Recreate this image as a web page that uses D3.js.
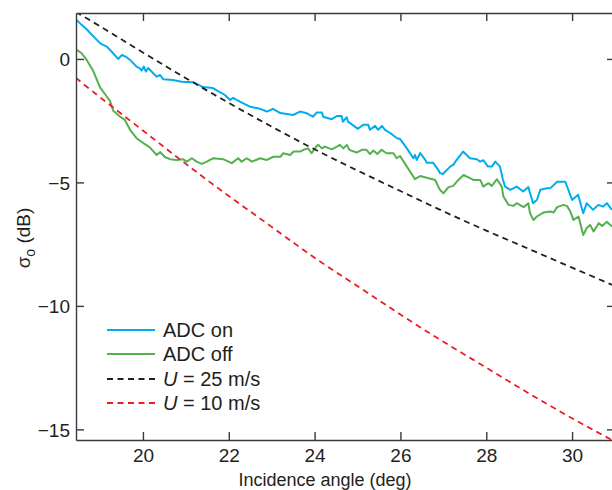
<!DOCTYPE html>
<html>
<head>
<meta charset="utf-8">
<script src="https://cdn.jsdelivr.net/npm/d3@7"></script>
<style>
    body { margin: 0; background: #fff; }
    svg text { font-family: 'Liberation Sans', Arial, Helvetica, sans-serif; fill: #231f20; }
</style>
</head>
<body>
<div id="chart"></div>
<script>
// angulos de incidencia (deg) y sigma0 (dB)
const anguloOn = [18.44, 18.57, 18.69, 18.77, 19.00, 19.07, 19.16, 19.30, 19.42, 19.51, 19.62, 19.70, 19.85, 19.93, 19.97, 20.02, 20.07, 20.12, 20.32, 20.40, 20.47, 20.70, 20.90, 21.17, 21.40, 21.63, 21.75, 21.91, 22.03, 22.10, 22.26, 22.50, 22.73, 22.89, 23.03, 23.20, 23.50, 23.66, 23.82, 23.96, 24.05, 24.17, 24.20, 24.40, 24.52, 24.63, 24.66, 24.75, 24.78, 25.01, 25.13, 25.25, 25.29, 25.41, 25.48, 25.57, 25.64, 25.76, 25.92, 25.99, 26.15, 26.30, 26.34, 26.38, 26.46, 26.58, 26.61, 26.76, 26.88, 26.92, 26.99, 27.16, 27.23, 27.31, 27.46, 27.62, 27.78, 27.86, 27.93, 28.04, 28.13, 28.21, 28.32, 28.39, 28.44, 28.56, 28.71, 28.86, 28.98, 29.09, 29.18, 29.26, 29.41, 29.49, 29.65, 29.84, 30.00, 30.14, 30.26, 30.34, 30.49, 30.61, 30.72, 30.81, 30.93]
const sigmaOn = [1.60, 1.38, 1.20, 1.05, 0.64, 0.57, 0.50, 0.24, 0.00, 0.16, 0.07, -0.04, -0.31, -0.38, -0.47, -0.31, -0.51, -0.37, -0.72, -0.65, -0.82, -0.85, -0.92, -0.94, -1.14, -1.18, -1.30, -1.46, -1.66, -1.58, -1.73, -1.94, -2.02, -2.13, -2.02, -2.19, -2.27, -2.13, -2.20, -2.34, -2.17, -2.17, -2.34, -2.44, -2.31, -2.31, -2.54, -2.36, -2.54, -2.83, -2.67, -2.67, -2.87, -2.71, -2.87, -2.71, -2.87, -3.00, -3.21, -3.24, -3.62, -4.02, -3.89, -4.09, -3.81, -4.09, -4.20, -4.20, -4.49, -4.62, -4.66, -4.36, -4.29, -4.09, -3.75, -4.02, -4.06, -4.16, -4.10, -4.36, -4.36, -4.16, -4.36, -4.90, -5.17, -5.30, -5.17, -5.37, -5.19, -5.84, -5.71, -5.30, -5.24, -5.24, -4.97, -4.97, -5.71, -5.50, -6.25, -5.84, -6.11, -5.91, -5.98, -5.84, -6.11]

const anguloOff = [18.44, 18.57, 18.69, 18.84, 19.00, 19.16, 19.23, 19.31, 19.47, 19.58, 19.70, 19.85, 20.01, 20.16, 20.32, 20.40, 20.51, 20.63, 20.79, 20.94, 21.02, 21.14, 21.25, 21.37, 21.49, 21.64, 21.87, 22.07, 22.22, 22.30, 22.42, 22.54, 22.73, 22.89, 23.04, 23.20, 23.27, 23.43, 23.51, 23.66, 23.74, 23.85, 23.93, 24.05, 24.09, 24.17, 24.24, 24.40, 24.52, 24.59, 24.67, 24.75, 24.81, 24.98, 25.10, 25.21, 25.29, 25.37, 25.46, 25.56, 25.68, 25.84, 25.91, 25.99, 26.15, 26.34, 26.46, 26.81, 26.92, 27.00, 27.12, 27.23, 27.35, 27.47, 27.62, 27.70, 27.86, 27.93, 28.05, 28.13, 28.25, 28.36, 28.40, 28.52, 28.63, 28.71, 28.87, 28.98, 29.02, 29.10, 29.18, 29.33, 29.49, 29.57, 29.65, 29.80, 29.88, 29.96, 30.03, 30.15, 30.26, 30.34, 30.42, 30.50, 30.62, 30.70, 30.81, 30.93]
const sigmaOff = [0.39, 0.23, -0.04, -0.48, -1.15, -1.53, -1.70, -2.10, -2.34, -2.47, -2.87, -3.21, -3.41, -3.58, -3.89, -3.77, -3.97, -4.06, -4.09, -4.06, -4.16, -4.02, -4.16, -4.25, -4.16, -4.02, -4.06, -4.22, -4.02, -4.16, -4.02, -4.16, -4.02, -4.09, -3.96, -3.96, -3.82, -3.89, -3.75, -3.75, -3.68, -3.62, -3.82, -3.52, -3.48, -3.62, -3.55, -3.66, -3.55, -3.48, -3.62, -3.48, -3.68, -3.79, -3.68, -3.68, -3.85, -3.71, -3.85, -3.68, -3.82, -3.82, -4.02, -3.93, -4.36, -4.87, -4.74, -4.90, -5.30, -5.44, -5.19, -5.14, -4.90, -4.70, -4.83, -4.90, -4.90, -5.17, -5.03, -5.14, -4.87, -5.17, -5.57, -5.91, -5.95, -5.84, -6.00, -5.84, -6.25, -6.52, -6.38, -6.22, -6.18, -6.22, -6.00, -5.91, -5.95, -6.18, -6.52, -6.38, -7.13, -6.85, -6.72, -6.99, -6.65, -6.76, -6.59, -6.79]

// modelos de viento
const anguloModelo = [18.44, 19, 20, 21, 22, 23, 24, 25, 26, 27, 28, 29, 30, 31]
const sigmaU25 = [1.9, 1.32, 0.26, -0.78, -1.78, -2.74, -3.66, -4.52, -5.35, -6.17, -6.95, -7.7, -8.45, -9.2]
const sigmaU10 = [-0.77, -1.55, -2.9, -4.25, -5.55, -6.8, -8.05, -9.2, -10.35, -11.45, -12.5, -13.55, -14.55, -15.5]

const ticksX = [20, 22, 24, 26, 28, 30]
const ticksY = [0, -5, -10, -15]

const series = [
    { nombre: 'ADC on', x: anguloOn, y: sigmaOn, color: '#00aeef', dash: null },
    { nombre: 'ADC off', x: anguloOff, y: sigmaOff, color: '#55b04f', dash: null },
    { nombre: '= 25 m/s', x: anguloModelo, y: sigmaU25, color: '#231f20', dash: '6,4.5' },
    { nombre: '= 10 m/s', x: anguloModelo, y: sigmaU10, color: '#ed1c24', dash: '6,4.5' }
]

const width = 612
const height = 490
const margen = { izq: 76, der: 615, arriba: 13, abajo: 440 }
const tickLen = 8
const colorEje = '#3a3a3a'

const x = d3.scaleLinear().domain([18.44, 31]).range([margen.izq, margen.der])
const y = d3.scaleLinear().domain([-15.43, 1.86]).range([margen.abajo, margen.arriba])

let svg = d3.select('#chart')
    .append('svg')
    .attr('width', width)
    .attr('height', height)

svg.append('clipPath')
    .attr('id', 'recorte')
    .append('rect')
    .attr('x', margen.izq)
    .attr('y', margen.arriba)
    .attr('width', margen.der - margen.izq)
    .attr('height', margen.abajo - margen.arriba)

// curvas
let linea = d3.line()
    .x((d) => x(d[0]))
    .y((d) => y(d[1]))

let lineaSuave = d3.line()
    .x((d) => x(d[0]))
    .y((d) => y(d[1]))
    .curve(d3.curveNatural)

let trazos = svg.append('g').attr('clip-path', 'url(#recorte)')

series.forEach(function (s) {
    let puntos = s.x.map((v, i) => [v, s.y[i]])
    trazos.append('path')
        .attr('d', s.dash ? lineaSuave(puntos) : linea(puntos))
        .attr('fill', 'none')
        .attr('stroke', s.color)
        .attr('stroke-width', s.dash ? 1.8 : 2)
        .attr('stroke-dasharray', s.dash)
        .attr('stroke-linejoin', 'round')
})

// ejes
let ejeAbajo = d3.axisBottom(x).tickValues(ticksX).tickSize(-tickLen).tickPadding(9).tickSizeOuter(0)
let ejeArriba = d3.axisTop(x).tickValues(ticksX).tickSize(-tickLen).tickFormat('').tickSizeOuter(0)
let ejeIzq = d3.axisLeft(y).tickValues(ticksY).tickSize(-tickLen).tickPadding(6).tickSizeOuter(0)
    .tickFormat((d) => d < 0 ? '\u2212' + Math.abs(d) : d)
let ejeDer = d3.axisRight(y).tickValues(ticksY).tickSize(-tickLen).tickFormat('').tickSizeOuter(0)

let gAbajo = svg.append('g').attr('transform', `translate(0,${margen.abajo})`).call(ejeAbajo)
let gArriba = svg.append('g').attr('transform', `translate(0,${margen.arriba})`).call(ejeArriba)
let gIzq = svg.append('g').attr('transform', `translate(${margen.izq},0)`).call(ejeIzq)
let gDer = svg.append('g').attr('transform', `translate(${margen.der},0)`).call(ejeDer)

svg.selectAll('.domain, .tick line')
    .attr('stroke', colorEje)
    .attr('stroke-width', 1.4)

svg.selectAll('.tick text')
    .attr('font-size', 19)
    .style('font-family', "'Liberation Sans', Arial, sans-serif")
    .attr('fill', '#231f20')

gIzq.selectAll('.tick text').attr('dy', '0.35em')

// titulos de ejes
svg.append('text')
    .attr('x', 325)
    .attr('y', 486)
    .attr('text-anchor', 'middle')
    .attr('font-size', 18)
    .text('Incidence angle (deg)')

let tituloY = svg.append('text')
    .attr('transform', 'translate(30,238) rotate(-90)')
    .attr('text-anchor', 'middle')
    .attr('font-size', 19)

tituloY.append('tspan').text('\u03c3')
tituloY.append('tspan').attr('font-size', 14).attr('dy', 5).text('o')
tituloY.append('tspan').attr('dy', -5).text(' (dB)')

// leyenda
const filaY = [330, 354, 379, 403]

let leyenda = svg.append('g')

series.forEach(function (s, i) {
    leyenda.append('line')
        .attr('x1', 107)
        .attr('x2', 155)
        .attr('y1', filaY[i])
        .attr('y2', filaY[i])
        .attr('stroke', s.color)
        .attr('stroke-width', 2)
        .attr('stroke-dasharray', s.dash)

    let t = leyenda.append('text')
        .attr('x', 163)
        .attr('y', filaY[i] + 7)
        .attr('font-size', 20)

    if (s.dash) {
        t.append('tspan').attr('font-style', 'italic').text('U')
        t.append('tspan').text(' ' + s.nombre)
    } else {
        t.text(s.nombre)
    }
})
</script>
</body>
</html>
